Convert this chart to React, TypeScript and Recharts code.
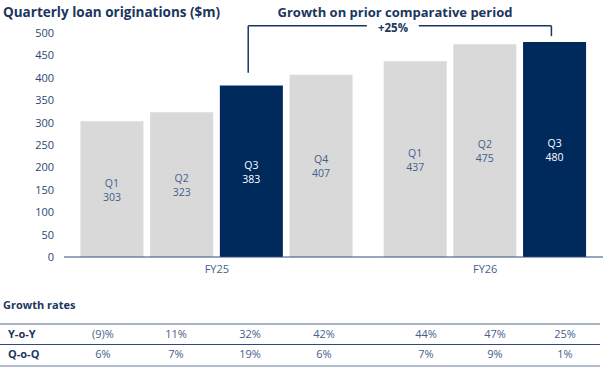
import React from 'react';
import { BarChart, Bar, XAxis, YAxis, Cell, LabelList, ReferenceLine } from 'recharts';

const quarters = ['Q1', 'Q2', 'Q3', 'Q4', 'Q1', 'Q2', 'Q3'];
const fiscalYears = ['FY25', 'FY25', 'FY25', 'FY25', 'FY26', 'FY26', 'FY26'];
const originations = [303, 323, 383, 407, 437, 475, 480];
const highlighted = [false, false, true, false, false, false, true];
const yTicks = [0, 50, 100, 150, 200, 250, 300, 350, 400, 450, 500];
const yoyRates = ['(9)%', '11%', '32%', '42%', '44%', '47%', '25%'];
const qoqRates = ['6%', '7%', '19%', '6%', '7%', '9%', '1%'];
const growthTitle = 'Growth on prior comparative period';
const growthValue = '+25%';

// layout constants
const GROUP_GAP = 0.35;
const FONT = '"Open Sans", "DejaVu Sans", sans-serif';
const NAVY = '#1b365d';
const DARK_BAR = '#002a5c';
const LIGHT_BAR = '#d9d9d9';
const LABEL_GREY = '#45608c';
const tableCols = [103, 176, 250, 324, 426, 495, 565];

const years = Array.from(new Set(fiscalYears));
const data = quarters.map((q, i) => ({
  x: i + years.indexOf(fiscalYears[i]) * GROUP_GAP,
  quarter: q,
  value: originations[i],
  highlighted: highlighted[i],
}));
const yearTicks = years.map((y) => {
  const xs = data.filter((_, i) => fiscalYears[i] === y).map((d) => d.x);
  return (Math.min(...xs) + Math.max(...xs)) / 2;
});
const yearOfTick = (v: number) => {
  const idx = yearTicks.findIndex((t) => Math.abs(t - v) < 1e-6);
  return idx >= 0 ? years[idx] : '';
};

const firstHi = data.findIndex((d) => d.highlighted);
const lastHi = data.length - 1 - [...data].reverse().findIndex((d) => d.highlighted);
const bracketOffset = -0.05;
const bracketTop = 516;
const leftX = data[firstHi].x + bracketOffset;
const rightX = data[lastHi].x + bracketOffset;
const gapCenter = 4.025;
const gapHalf = 0.373;

const BarLabel = (props: any) => {
  const { x, y, width, height, index } = props;
  const d = data[index];
  if (!d) return null;
  const cx = Number(x) + Number(width) / 2;
  const cy = Number(y) + Number(height) / 2;
  const fill = d.highlighted ? '#ffffff' : LABEL_GREY;
  return (
    <text x={cx} y={cy - 2.5} textAnchor="middle" fill={fill} fontSize={10.5} fontFamily={FONT}>
      <tspan x={cx} dy={0}>{d.quarter}</tspan>
      <tspan x={cx} dy={14}>{d.value}</tspan>
    </text>
  );
};

const abs = (style: React.CSSProperties): React.CSSProperties => ({ position: 'absolute', fontFamily: FONT, whiteSpace: 'nowrap', ...style });

export default function App() {
  return (
    <div style={{ position: 'absolute', left: 0, top: 0, width: 604, height: 368, background: '#fff', overflow: 'hidden' }}>
      <BarChart width={604} height={368} data={data} margin={{ top: 33, right: 1, bottom: 81, left: 4 }}>
        <XAxis
          dataKey="x"
          type="number"
          domain={[-0.693, 7.04]}
          allowDataOverflow
          ticks={yearTicks}
          tickFormatter={yearOfTick}
          tickLine={false}
          axisLine={{ stroke: '#2e4b7c', strokeWidth: 1 }}
          tick={{ fill: LABEL_GREY, fontSize: 11, fontFamily: FONT }}
          height={30}
        />
        <YAxis
          type="number"
          domain={[0, 500]}
          ticks={yTicks}
          width={60}
          axisLine={false}
          tickLine={false}
          tickMargin={4}
          tick={{ fill: '#2d4673', fontSize: 11, fontFamily: FONT }}
        />
        <Bar dataKey="value" barSize={63} isAnimationActive={false}>
          {data.map((d, i) => (
            <Cell key={i} fill={d.highlighted ? DARK_BAR : LIGHT_BAR} />
          ))}
          <LabelList dataKey="value" content={BarLabel} />
        </Bar>
        <ReferenceLine ifOverflow="visible" stroke={NAVY} strokeWidth={1.5}
          segment={[{ x: leftX, y: data[firstHi].value + 28 }, { x: leftX, y: bracketTop }]} />
        <ReferenceLine ifOverflow="visible" stroke={NAVY} strokeWidth={1.5}
          segment={[{ x: leftX, y: bracketTop }, { x: gapCenter - gapHalf, y: bracketTop }]} />
        <ReferenceLine ifOverflow="visible" stroke={NAVY} strokeWidth={1.5}
          segment={[{ x: gapCenter + gapHalf, y: bracketTop }, { x: rightX, y: bracketTop }]} />
        <ReferenceLine ifOverflow="visible" stroke={NAVY} strokeWidth={1.5}
          segment={[{ x: rightX, y: bracketTop }, { x: rightX, y: data[lastHi].value + 13 }]} />
      </BarChart>

      <div style={abs({ left: 3, top: 4, fontSize: 13.5, lineHeight: '16px', fontWeight: 700, color: NAVY })}>
        Quarterly loan originations ($m)
      </div>
      <div style={abs({ left: 395, top: 5, transform: 'translateX(-50%)', fontSize: 13, lineHeight: '14px', fontWeight: 700, color: NAVY })}>
        {growthTitle}
      </div>
      <div style={abs({ left: 393, top: 21, transform: 'translateX(-50%)', fontSize: 11.5, lineHeight: '13px', fontWeight: 700, color: NAVY })}>
        {growthValue}
      </div>

      <div style={abs({ left: 3, top: 298, fontSize: 11, lineHeight: '14px', fontWeight: 700, color: NAVY })}>
        Growth rates
      </div>
      <div style={{ position: 'absolute', left: 0, top: 323, width: 600, height: 2, background: '#a9b5c7' }} />
      <div style={{ position: 'absolute', left: 0, top: 343.5, width: 600, height: 1.5, background: '#2e4b7c' }} />
      <div style={{ position: 'absolute', left: 0, top: 364.5, width: 600, height: 2, background: '#b0bccd' }} />

      <div style={abs({ left: 8, top: 327, fontSize: 11, lineHeight: '14px', fontWeight: 700, color: NAVY })}>Y-o-Y</div>
      <div style={abs({ left: 8, top: 347, fontSize: 11, lineHeight: '14px', fontWeight: 700, color: NAVY })}>Q-o-Q</div>
      {yoyRates.map((r, i) => (
        <div key={'y' + i} style={abs({ left: tableCols[i], top: 327, transform: 'translateX(-50%)', fontSize: 11, lineHeight: '14px', color: LABEL_GREY })}>
          {r}
        </div>
      ))}
      {qoqRates.map((r, i) => (
        <div key={'q' + i} style={abs({ left: tableCols[i], top: 347, transform: 'translateX(-50%)', fontSize: 11, lineHeight: '14px', color: LABEL_GREY })}>
          {r}
        </div>
      ))}
    </div>
  );
}
